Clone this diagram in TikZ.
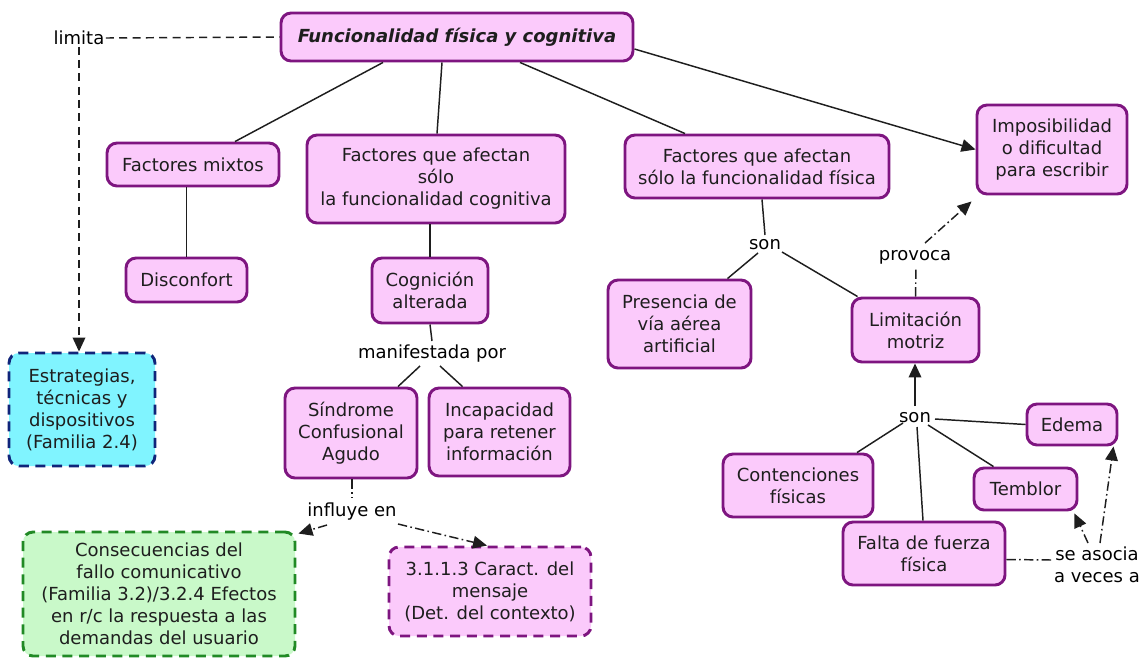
\documentclass[tikz,border=0pt]{standalone}
\usepackage{fontspec}
\setmainfont{DejaVu Sans}
\usetikzlibrary{arrows.meta,calc}

\definecolor{nodefill}{HTML}{FBCAFB}
\definecolor{nodeedge}{HTML}{7E1580}
\definecolor{cyanfill}{HTML}{80F4FF}
\definecolor{navyedge}{HTML}{10257A}
\definecolor{greenfill}{HTML}{C9F9C9}
\definecolor{greenedge}{HTML}{218A25}
\definecolor{ink}{HTML}{1E1E1E}

\tikzset{
  concept/.style={draw=nodeedge, fill=nodefill, line width=2.2pt, rounded corners=7.5pt,
    align=center, inner sep=0pt, font=\fontsize{13.5}{16.5}\selectfont, text=ink},
  refbox/.style={concept, dash pattern=on 7.5pt off 5pt},
  linkword/.style={font=\fontsize{13.5}{16.5}\selectfont, text=black, inner sep=1pt},
  link/.style={line width=1.1pt, draw=ink},
  dashlink/.style={link, dash pattern=on 6pt off 4pt},
  dotlink/.style={link, dash pattern=on 7pt off 2.5pt on 1.2pt off 2.5pt},
  arrowend/.style={-{Triangle[length=10.5pt,width=9.5pt]}},
}

\begin{document}
\begin{tikzpicture}[x=0.75pt, y=-0.75pt]
\useasboundingbox (0,0) rectangle (1142,658);

% --- concepts ---
\node[concept, minimum width=264pt, minimum height=36pt, font=\fontsize{13.5}{16.5}\selectfont\bfseries\itshape] (main) at (457,37) {Funcionalidad física y cognitiva};
\node[linkword] (limita) at (79,38) {limita};
\node[refbox, draw=navyedge, fill=cyanfill, minimum width=109.5pt, minimum height=84.75pt] (estr) at (82,409.5) {Estrategias,\\técnicas y\\dispositivos\\(Familia 2.4)};

\node[concept, minimum width=129pt, minimum height=32.25pt] (fm) at (193,164.5) {Factores mixtos};
\node[concept, minimum width=90.75pt, minimum height=33pt] (disc) at (186.5,280) {Disconfort};

\node[concept, minimum width=193.5pt, minimum height=66pt] (fcog) at (436,179) {Factores que afectan\\sólo\\la funcionalidad cognitiva};
\node[concept, minimum width=87pt, minimum height=48.75pt] (cog) at (430,290.5) {Cognición\\alterada};
\node[linkword] (manif) at (432,354) {manifestada por};
\node[concept, minimum width=99pt, minimum height=67.5pt] (sind) at (351,433) {Síndrome\\Confusional\\Agudo};
\node[concept, minimum width=105.75pt, minimum height=66pt] (incap) at (499.5,432) {Incapacidad\\para retener\\información};
\node[linkword] (influye) at (352,512) {influye en};
\node[refbox, draw=greenedge, fill=greenfill, minimum width=204pt, minimum height=93pt] (cons) at (159,594) {Consecuencias del\\fallo comunicativo\\(Familia 3.2)/3.2.4 Efectos\\en r/c la respuesta a las\\demandas del usuario};
\node[refbox, minimum width=151.5pt, minimum height=66.75pt] (caract) at (490,591.5) {3.1.1.3 Caract. del\\mensaje\\(Det. del contexto)};

\node[concept, minimum width=198pt, minimum height=47.25pt] (ffis) at (757,166.5) {Factores que afectan\\sólo la funcionalidad física};
\node[concept, minimum width=112.5pt, minimum height=66.75pt] (imp) at (1052,149.5) {Imposibilidad\\o dificultad\\para escribir};
\node[linkword] (son1) at (765,245) {son};
\node[concept, minimum width=107.25pt, minimum height=66pt] (pres) at (679.5,324) {Presencia de\\vía aérea\\artificial};
\node[concept, minimum width=95.25pt, minimum height=48pt] (lim) at (915.5,330) {Limitación\\motriz};
\node[linkword] (provoca) at (915,257) {provoca};
\node[linkword] (son2) at (915,418) {son};
\node[concept, minimum width=67.5pt, minimum height=30.75pt] (edema) at (1072,424.5) {Edema};
\node[concept, minimum width=112.5pt, minimum height=47.25pt] (cont) at (798,485.5) {Contenciones\\físicas};
\node[concept, minimum width=77.25pt, minimum height=31.5pt] (temb) at (1025.5,489) {Temblor};
\node[concept, minimum width=121.5pt, minimum height=47.25pt] (falta) at (924,553.5) {Falta de fuerza\\física};
\node[linkword, align=center] (asocia) at (1097,565) {se asocia\\a veces a};

% --- connectors ---
\draw[dashlink] (limita.east) -- (main.west);
\draw[dashlink, arrowend] (limita.south) -- (limita.south |- estr.north);

\draw[link] ($(main.south)+(-74,0)$) -- ($(fm.north)+(42,0)$);
\draw[link] ($(main.south)+(-15,0)$) -- ($(fcog.north)+(1,0)$);
\draw[link] ($(main.south)+(63,0)$) -- ($(ffis.north)+(-72,0)$);
\draw[link, arrowend] ($(main.east)+(0,12)$) -- (imp.west);

\draw[link] (disc.north) -- (disc.north |- fm.south);

\draw[link] (cog.north) -- (cog.north |- fcog.south);
\draw[link] (cog.south) -- ($(manif.center)+(0,-13)$);
\draw[link] ($(manif.center)+(-12,12)$) -- ($(sind.north)+(47,0)$);
\draw[link] ($(manif.center)+(8,12)$) -- ($(incap.north)+(-37,0)$);

\draw[dotlink] ($(sind.south)+(1,0)$) -- ($(influye.center)+(0,-14)$);
\draw[dotlink, arrowend] ($(influye.center)+(-25,13)$) -- ($(cons.north east)+(2,3)$);
\draw[dotlink, arrowend] ($(influye.center)+(46,12)$) -- ($(caract.north)+(-3,0)$);

\draw[link] ($(ffis.south)+(5,0)$) -- ($(son1.center)+(0,-10)$);
\draw[link] ($(son1.center)+(-7,8)$) -- ($(pres.north)+(48,0)$);
\draw[link] ($(son1.center)+(17,7)$) -- ($(lim.north west)+(7,0)$);

\draw[dotlink] (lim.north) -- ($(provoca.center)+(1,11)$);
\draw[dotlink, arrowend] ($(provoca.center)+(10,-14)$) -- ($(imp.south west)+(-4,6)$);

\draw[link, arrowend] ($(son2.center)+(0,-12)$) -- (son2.center |- lim.south);
\draw[link] ($(son2.center)+(20,1)$) -- (edema.west);
\draw[link] ($(son2.center)+(-12,5)$) -- ($(cont.north)+(59,0)$);
\draw[link] ($(son2.center)+(13,7)$) -- ($(temb.north)+(-32,0)$);
\draw[link] ($(son2.center)+(2,9)$) -- ($(falta.north)+(-1,0)$);

\draw[dotlink] ($(falta.east)+(0,6)$) -- ($(asocia.center)+(-45,-5)$);
\draw[dotlink, arrowend] ($(asocia.center)+(-9,-22)$) -- ($(temb.south east)+(-4,2)$);
\draw[dotlink, arrowend] ($(asocia.center)+(3,-22)$) -- ($(edema.south east)+(-5,0)$);
\end{tikzpicture}
\end{document}
